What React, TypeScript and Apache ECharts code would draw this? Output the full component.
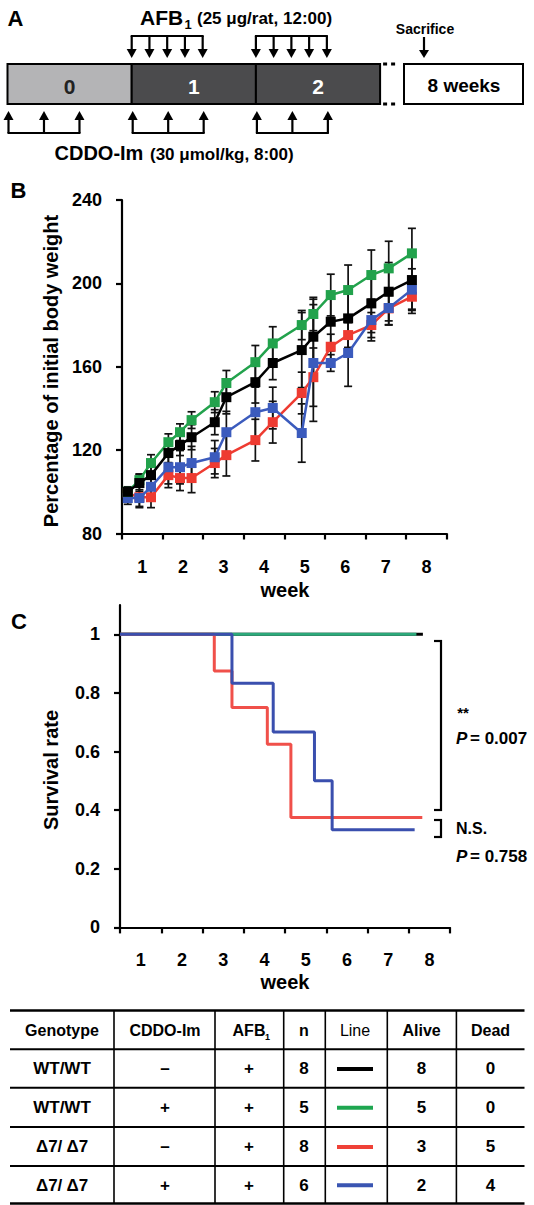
import React, { useEffect, useRef } from 'react';
import * as echarts from 'echarts';

const FONT = '"Liberation Sans", Arial, Helvetica, sans-serif';

// ---------- Panel A: dosing schedule ----------
const scheduleWeeks = ['0', '1', '2'];
const afbWeeks = [1, 2];
const afbDays = [0, 1, 2, 3, 4];
const cddoWeeks = [0, 1, 2];
const cddoDays = [0, 2, 4];

// ---------- Panel B: body weight (% of initial) ----------
const weekLabels = ['1', '2', '3', '4', '5', '6', '7', '8'];
const bwDays = [1, 3, 5, 8, 10, 12, 16, 18, 23, 26, 31, 33, 36, 39, 43, 46, 50];
const bwWT = [100, 104.2, 108, 118.6, 122.4, 126.2, 133.4, 145.4, 152.6, 161.8, 168, 174.4, 181.6, 183.2, 190.4, 196, 201.6];
const bwWTErr = [2, 4, 4, 5, 5, 6, 6, 8, 10, 8, 18, 18, 14, 14, 14, 14, 14];
const bwWTCddo = [100, 105.6, 113.8, 123.8, 128.6, 134.4, 143, 152.2, 162.2, 171.2, 180, 185.3, 194.4, 196.8, 204, 207.2, 214.4];
const bwWTCddoErr = [2, 3, 4, 4, 4, 4, 5, 6, 8, 8, 7, 8, 10, 12, 12, 13, 12];
const bwD7 = [99.4, 97.4, 97.4, 108, 106.6, 106.6, 113.8, 117.6, 124.8, 133.4, 147.4, 155, 169.6, 175.2, 180, 188, 193.6];
const bwD7Err = [3, 5, 5, 6, 6, 7, 7, 10, 10, 10, 10, 14, 6, 6, 6, 8, 8];
const bwD7Cddo = [97, 97, 102.4, 111.8, 111.8, 113.8, 116.6, 128.6, 138.2, 140.2, 128.2, 161.8, 161.8, 166.6, 182.4, 188.2, 197];
const bwD7CddoErr = [3, 4, 4, 8, 8, 8, 8, 10, 12, 10, 14, 28, 4, 16, 10, 8, 10];

// ---------- Panel C: survival ----------
const survWTDays = [0, 51.4];
const survWTRate = [1, 1];
const survWTCddoDays = [0, 50.3];
const survWTCddoRate = [1, 1];
const survD7Days = [0, 16, 19, 25, 29, 51.3];
const survD7Rate = [1, 0.875, 0.75, 0.625, 0.375, 0.375];
const survD7CddoDays = [0, 19, 26, 33, 36, 50];
const survD7CddoRate = [1, 0.833, 0.667, 0.5, 0.333, 0.333];
const survTicks = [0, 0.2, 0.4, 0.6, 0.8, 1];

// ---------- Table ----------
const tableHeaders = ['Genotype', 'CDDO-Im', 'AFB', 'n', 'Line', 'Alive', 'Dead'];
const genotypes = ['WT/WT', 'WT/WT', 'Δ7/ Δ7', 'Δ7/ Δ7'];
const cddoTreat = ['–', '+', '–', '+'];
const afbTreat = ['+', '+', '+', '+'];
const nValues = ['8', '5', '8', '6'];
const aliveValues = ['8', '5', '3', '2'];
const deadValues = ['0', '0', '5', '4'];

const colorsB = ['#000000', '#22a24c', '#ee3b31', '#3b5bbd'];
const colorsC = ['#000000', '#2ba97a', '#f0504a', '#3a4fae'];
const colorsTable = ['#000000', '#1ea650', '#ef4137', '#3a55b2'];

const bold = (size: number) => ({ fontSize: size, fontWeight: 'bold', fontFamily: FONT });

function txt(text: string, x: number, y: number, size: number, opts: any = {}) {
  const align = opts.align || 'center';
  return {
    type: 'text',
    x,
    y,
    rotation: opts.rotation || 0,
    silent: true,
    style: {
      text,
      fill: opts.fill || '#000',
      fontSize: size,
      fontWeight: opts.weight || 'bold',
      fontStyle: opts.fontStyle || 'normal',
      fontFamily: FONT,
      align,
      textAlign: align,
      verticalAlign: 'middle',
      textVerticalAlign: 'middle',
    },
  };
}

function ln(x1: number, y1: number, x2: number, y2: number, w = 2, extra: any = {}) {
  return {
    type: 'line',
    silent: true,
    shape: { x1, y1, x2, y2 },
    style: { stroke: '#000', lineWidth: w, ...extra },
  };
}

function poly(points: number[][]) {
  return { type: 'polygon', silent: true, shape: { points }, style: { fill: '#000' } };
}

function buildPanelA() {
  const els: any[] = [];
  const barX0 = 7.5;
  const weekW = 124.2;
  const barTop = 64;
  const barH = 40;
  const dayX = (w: number, d: number) => barX0 + (w + d / 7) * weekW;

  els.push(txt('A', 15.5, 18, 22));
  // AFB label
  els.push(txt('AFB', 140, 17, 21, { align: 'left' }));
  els.push(txt('1', 184.5, 24, 13, { align: 'left' }));
  els.push(txt('(25 μg/rat, 12:00)', 197, 18, 17, { align: 'left' }));

  // timeline bar segments
  scheduleWeeks.forEach((w, i) => {
    els.push({
      type: 'rect',
      silent: true,
      shape: { x: barX0 + i * weekW, y: barTop, width: weekW, height: barH },
      style: { fill: i === 0 ? '#b4b4b6' : '#4b4b4d', stroke: '#000', lineWidth: 2 },
    });
    els.push(txt(w, barX0 + (i + 0.5) * weekW, barTop + 22, 21, { fill: i === 0 ? '#222' : '#fff' }));
  });
  const barEnd = barX0 + 3 * weekW;
  els.push(ln(barEnd + 3, barTop, barEnd + 19, barTop, 3, { lineDash: [4, 4] }));
  els.push(ln(barEnd + 3, barTop + barH, barEnd + 19, barTop + barH, 3, { lineDash: [4, 4] }));
  els.push({
    type: 'rect',
    silent: true,
    shape: { x: 404, y: barTop, width: 119, height: barH },
    style: { fill: '#fff', stroke: '#000', lineWidth: 2 },
  });
  els.push(txt('8 weeks', 464, barTop + 21, 19));

  // Sacrifice
  els.push(txt('Sacrifice', 425, 29, 14));
  els.push(ln(424, 37, 424, 51, 2.2));
  els.push(poly([[419, 50], [429, 50], [424, 58]]));

  // AFB arrows (down)
  afbWeeks.forEach((w) => {
    const xs = afbDays.map((d) => dayX(w, d));
    els.push(ln(xs[0] - 1, 36, xs[xs.length - 1] + 1, 36, 2.2));
    xs.forEach((x) => {
      els.push(ln(x, 36, x, 51, 2.2));
      els.push(poly([[x - 5, 49], [x + 5, 49], [x, 58]]));
    });
  });

  // CDDO arrows (up)
  cddoWeeks.forEach((w) => {
    const xs = cddoDays.map((d) => dayX(w, d) + 1);
    els.push(ln(xs[0] - 1, 133, xs[xs.length - 1] + 1, 133, 2.2));
    xs.forEach((x) => {
      els.push(ln(x, 118, x, 133, 2.2));
      els.push(poly([[x - 5, 120], [x + 5, 120], [x, 111]]));
    });
  });
  els.push(txt('CDDO-Im', 54.5, 153, 20, { align: 'left' }));
  els.push(txt('(30 μmol/kg, 8:00)', 150, 154, 17, { align: 'left' }));
  return els;
}

function buildTable() {
  const els: any[] = [];
  const rowYs = [1010.4, 1049.2, 1087.7, 1126.9, 1166, 1203.6];
  const colXs = [114, 215, 283.7, 325.3, 387.3, 456.4];
  const colCenters = [62, 165, 249, 304, 355, 421.6, 490.5];
  rowYs.forEach((y, i) => els.push(ln(10, y, 524.5, y, i === 0 || i === rowYs.length - 1 ? 2.5 : 2)));
  colXs.forEach((x) => els.push(ln(x, rowYs[0], x, rowYs[rowYs.length - 1], 1.6)));
  const hy = (rowYs[0] + rowYs[1]) / 2 + 1;
  tableHeaders.forEach((h, i) => {
    els.push(txt(h, colCenters[i], hy, 16, { weight: h === 'Line' ? 'normal' : 'bold' }));
  });
  els.push(txt('1', 267.5, hy + 6, 9));
  const columns = [genotypes, cddoTreat, afbTreat, nValues, null, aliveValues, deadValues];
  for (let r = 0; r < 4; r++) {
    const y = (rowYs[r + 1] + rowYs[r + 2]) / 2 + 0.5;
    columns.forEach((col, c) => {
      if (col) {
        els.push(txt(col[r], colCenters[c], y, 17));
      } else {
        els.push(ln(337, y, 373, y, 4, { stroke: colorsTable[r] }));
      }
    });
  }
  return els;
}

function errorSeries(days: number[], vals: number[], errs: number[], z: number) {
  return {
    type: 'custom',
    xAxisIndex: 1,
    yAxisIndex: 0,
    z,
    silent: true,
    renderItem: (_params: any, api: any) => {
      const x = api.value(0);
      const lo = api.value(1);
      const hi = api.value(2);
      const pHi = api.coord([x, hi]);
      const pLo = api.coord([x, lo]);
      const w = 4;
      const style = { stroke: '#111', lineWidth: 1.7 };
      return {
        type: 'group',
        children: [
          { type: 'line', shape: { x1: pHi[0], y1: pHi[1], x2: pLo[0], y2: pLo[1] }, style },
          { type: 'line', shape: { x1: pHi[0] - w, y1: pHi[1], x2: pHi[0] + w, y2: pHi[1] }, style },
          { type: 'line', shape: { x1: pLo[0] - w, y1: pLo[1], x2: pLo[0] + w, y2: pLo[1] }, style },
        ],
      };
    },
    encode: { x: 0, y: [1, 2] },
    data: days.map((d, i) => [d, vals[i] - errs[i], vals[i] + errs[i]]),
  };
}

function bwLine(name: string, vals: number[], color: string, z: number) {
  return {
    name,
    type: 'line',
    xAxisIndex: 1,
    yAxisIndex: 0,
    z,
    symbol: 'rect',
    symbolSize: 10,
    lineStyle: { color, width: 2.5 },
    itemStyle: { color },
    data: bwDays.map((d, i) => [d, vals[i]]),
  };
}

function survLine(name: string, days: number[], rates: number[], color: string, z: number) {
  return {
    name,
    type: 'line',
    xAxisIndex: 3,
    yAxisIndex: 1,
    z,
    step: 'end',
    symbol: 'none',
    lineStyle: { color, width: 3 },
    itemStyle: { color },
    data: days.map((d, i) => [d, rates[i]]),
  };
}

const catAxis = (gridIndex: number) => ({
  gridIndex,
  type: 'category',
  data: weekLabels,
  boundaryGap: true,
  axisLine: { lineStyle: { color: '#000', width: 2.2 } },
  axisTick: { show: true, length: 6, alignWithLabel: false, lineStyle: { color: '#000', width: 2.2 } },
  axisLabel: { ...bold(18), color: '#000', margin: 24 },
  splitLine: { show: false },
});

const valXAxis = (gridIndex: number) => ({
  gridIndex,
  type: 'value',
  min: 0,
  max: 56,
  show: false,
});

function buildOption() {
  const graphics = [
    ...buildPanelA(),
    txt('B', 18.5, 190, 22),
    txt('Percentage of initial body weight', 50.5, 371, 20, { rotation: Math.PI / 2 }),
    txt('week', 285, 590, 20),
    txt('C', 19, 621, 22),
    txt('Survival rate', 50.5, 770, 20, { rotation: Math.PI / 2 }),
    txt('week', 285, 982, 20),
    // significance brackets
    ln(434, 641, 442, 641, 2.2),
    ln(441, 640, 441, 811, 2.2),
    ln(434, 810, 442, 810, 2.2),
    txt('**', 463, 712, 15, { align: 'center' }),
    txt('P', 456, 738, 17, { align: 'left', fontStyle: 'italic' }),
    txt('= 0.007', 470, 738, 17, { align: 'left' }),
    ln(434, 820, 442, 820, 2.2),
    ln(441, 819, 441, 838, 2.2),
    ln(434, 837, 442, 837, 2.2),
    txt('N.S.', 456, 828, 16, { align: 'left' }),
    txt('P', 456, 856, 17, { align: 'left', fontStyle: 'italic' }),
    txt('= 0.758', 470, 856, 17, { align: 'left' }),
    ...buildTable(),
  ];

  return {
    animation: false,
    backgroundColor: '#fff',
    textStyle: { fontFamily: FONT },
    grid: [
      { left: 122, top: 200, width: 324.7, height: 333.5, containLabel: false },
      { left: 120, top: 605, width: 330, height: 322.4, containLabel: false },
    ],
    xAxis: [catAxis(0), valXAxis(0), catAxis(1), valXAxis(1)],
    yAxis: [
      {
        gridIndex: 0,
        type: 'value',
        min: 80,
        max: 240,
        interval: 40,
        axisLine: { show: true, lineStyle: { color: '#000', width: 2.2 } },
        axisTick: { show: true, length: 6, lineStyle: { color: '#000', width: 2.2 } },
        axisLabel: { ...bold(18), color: '#000', margin: 20 },
        splitLine: { show: false },
      },
      {
        gridIndex: 1,
        type: 'value',
        min: 0,
        max: 1.1,
        axisLine: { show: true, lineStyle: { color: '#000', width: 2.2 } },
        axisTick: { show: true, length: 6, customValues: survTicks, lineStyle: { color: '#000', width: 2.2 } },
        axisLabel: {
          ...bold(18),
          color: '#000',
          margin: 20,
          customValues: survTicks,
          formatter: (v: number) => (v === 0 ? '0' : Math.abs(v - 1) < 1e-9 ? '1' : v.toFixed(1)),
        },
        splitLine: { show: false },
      },
    ],
    series: [
      errorSeries(bwDays, bwD7, bwD7Err, 1),
      errorSeries(bwDays, bwD7Cddo, bwD7CddoErr, 1),
      errorSeries(bwDays, bwWTCddo, bwWTCddoErr, 1),
      errorSeries(bwDays, bwWT, bwWTErr, 1),
      bwLine('Δ7/Δ7', bwD7, colorsB[2], 2),
      bwLine('Δ7/Δ7 + CDDO-Im', bwD7Cddo, colorsB[3], 3),
      bwLine('WT/WT + CDDO-Im', bwWTCddo, colorsB[1], 4),
      bwLine('WT/WT', bwWT, colorsB[0], 5),
      survLine('WT/WT', survWTDays, survWTRate, colorsC[0], 2),
      survLine('WT/WT + CDDO-Im', survWTCddoDays, survWTCddoRate, colorsC[1], 3),
      survLine('Δ7/Δ7', survD7Days, survD7Rate, colorsC[2], 4),
      survLine('Δ7/Δ7 + CDDO-Im', survD7CddoDays, survD7CddoRate, colorsC[3], 5),
    ],
    graphic: { elements: graphics },
  };
}

export default function App() {
  const ref = useRef<HTMLDivElement>(null);
  useEffect(() => {
    if (!ref.current) return;
    const chart = echarts.init(ref.current, null, { renderer: 'svg' });
    chart.setOption(buildOption() as any);
    return () => chart.dispose();
  }, []);
  return (
    <div
      ref={ref}
      style={{ position: 'absolute', left: 0, top: 0, width: 534, height: 1205, background: '#fff' }}
    />
  );
}
